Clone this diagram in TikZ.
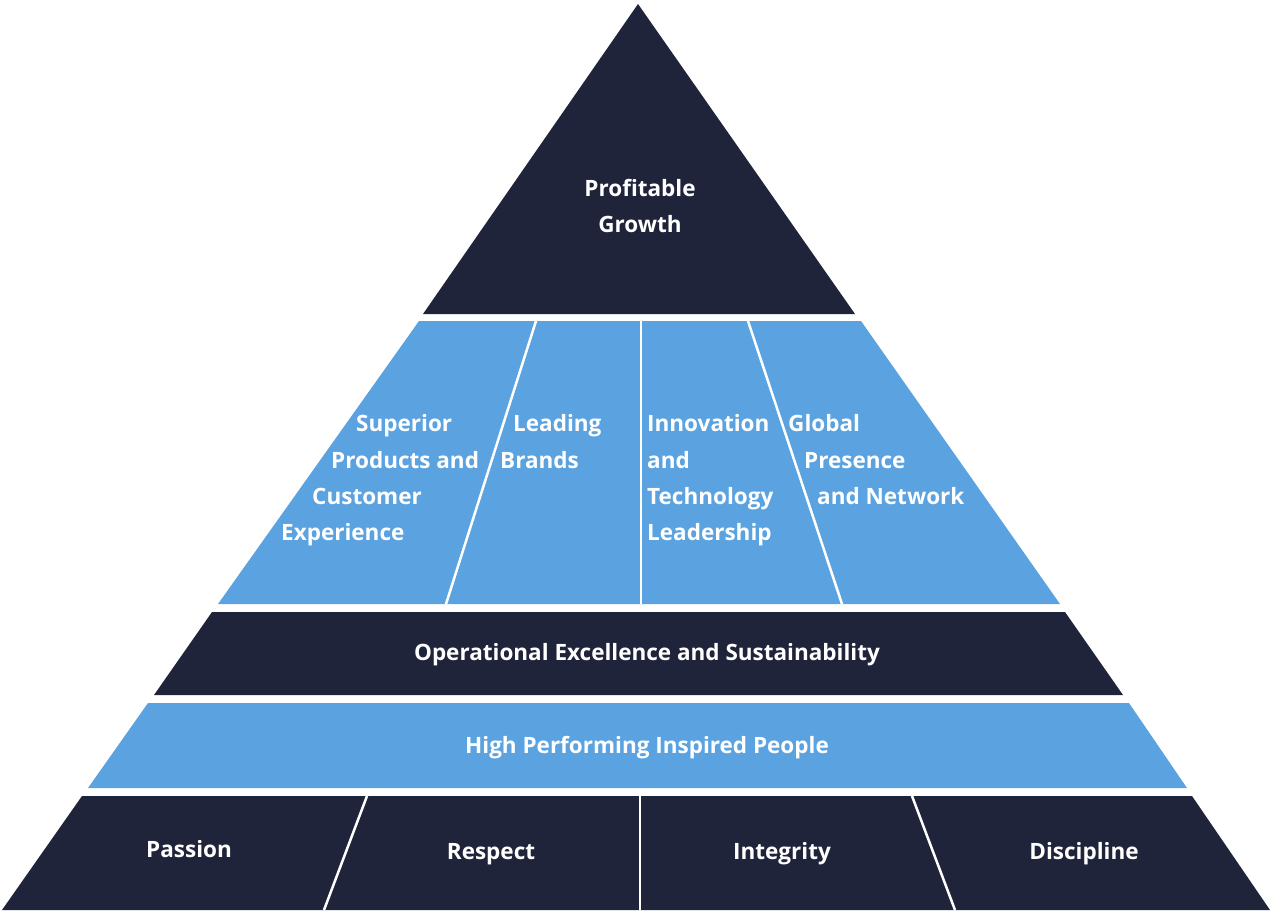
\documentclass[tikz,border=0pt]{standalone}
\usepackage{fontspec}
\setmainfont{Open Sans}
\definecolor{navy}{RGB}{32,36,58}
\definecolor{sky}{RGB}{91,163,224}
\begin{document}
\begin{tikzpicture}[x=1pt,y=-1pt,
  lbl/.style={text=white,font=\fontsize{22.5}{26}\selectfont\bfseries,inner sep=0pt,text height=16pt,text depth=0pt},
  divider/.style={white,line width=2.5pt},
  darkband/.style={fill=navy},
  blueband/.style={fill=sky}]
\useasboundingbox (0,0) rectangle (1271,911);
% top triangle
\fill[darkband] (638,4) -- (855,314) -- (423,314) -- cycle;
% blue strategic band
\fill[blueband] (419,321) -- (861,321) -- (1060,604) -- (218,604) -- cycle;
\draw[divider] (536,321) -- (446,604);
\draw[divider] (641,321) -- (641,604);
\draw[divider] (748,321) -- (842,604);
% operational band
\fill[darkband] (212,612) -- (1065,612) -- (1123,695) -- (154,695) -- cycle;
% people band
\fill[blueband] (148,703) -- (1129,703) -- (1187,788) -- (88,788) -- cycle;
% values band
\fill[darkband] (82,796) -- (1192,796) -- (1270,910) -- (2,910) -- cycle;
\draw[divider] (367,796) -- (324,910);
\draw[divider] (640,796) -- (640,910);
\draw[divider] (912,796) -- (955,910);
% texts
\node[lbl] (pg1) at (640,188) {Profitable};
\node[lbl] (pg2) at (640,224) {Growth};
\node[lbl,anchor=west] (sp1) at (356,423) {Superior};
\node[lbl,anchor=west] (sp2) at (331,460) {Products and};
\node[lbl,anchor=west] (sp3) at (312,496) {Customer};
\node[lbl,anchor=west] (sp4) at (281,532) {Experience};
\node[lbl,anchor=west] (lb1) at (513,423) {Leading};
\node[lbl,anchor=west] (lb2) at (500,460) {Brands};
\node[lbl,anchor=west] (it1) at (647,423) {Innovation};
\node[lbl,anchor=west] (it2) at (647,460) {and};
\node[lbl,anchor=west] (it3) at (647,496) {Technology};
\node[lbl,anchor=west] (it4) at (647,532) {Leadership};
\node[lbl,anchor=west] (gp1) at (788,423) {Global};
\node[lbl,anchor=west] (gp2) at (804,460) {Presence};
\node[lbl,anchor=west] (gp3) at (817,496) {and Network};
\node[lbl] (ops) at (647,652) {Operational Excellence and Sustainability};
\node[lbl] (hpp) at (647,745) {High Performing Inspired People};
\node[lbl] (pas) at (189,849) {Passion};
\node[lbl] (res) at (491,851) {Respect};
\node[lbl] (int) at (782,851) {Integrity};
\node[lbl] (dis) at (1084,851) {Discipline};
\end{tikzpicture}
\end{document}
